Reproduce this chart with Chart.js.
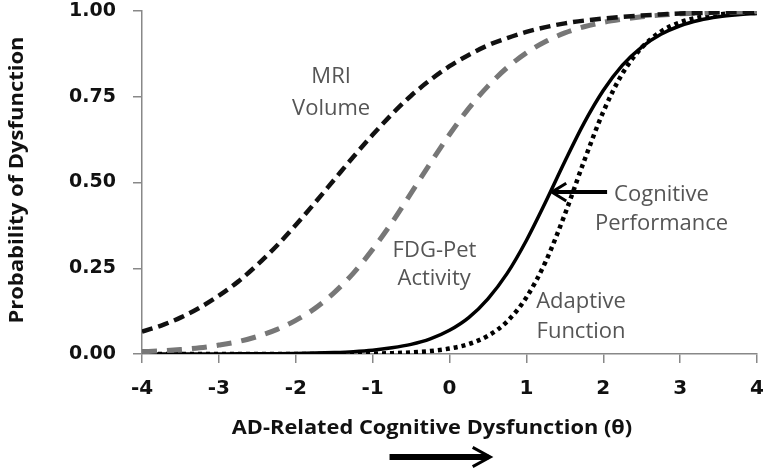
<!DOCTYPE html>
<html>
<head>
<meta charset="utf-8">
<script src="https://cdn.jsdelivr.net/npm/chart.js@4.4.1/dist/chart.umd.min.js"></script>
<style>
  html, body { margin: 0; padding: 0; background: #fff; }
  #wrap { width: 768px; height: 472px; }
</style>
</head>
<body>
<div id="wrap"><canvas id="chart" width="768" height="472"></canvas></div>
<script>
// Ability levels (theta) along the x axis
const theta = [-4, -3.75, -3.5, -3.25, -3, -2.75, -2.5, -2.25, -2, -1.75, -1.5, -1.25, -1, -0.75, -0.5, -0.25,
  0, 0.25, 0.5, 0.75, 1, 1.25, 1.5, 1.75, 2, 2.25, 2.5, 2.75, 3, 3.25, 3.5, 3.75, 4];

// Probability of dysfunction
const mriVolume = [0.065, 0.083, 0.106, 0.135, 0.170, 0.211, 0.260, 0.315, 0.376, 0.441, 0.508, 0.575, 0.639, 0.699, 0.753, 0.799,
  0.839, 0.872, 0.900, 0.921, 0.939, 0.953, 0.964, 0.972, 0.978, 0.983, 0.987, 0.990, 0.993, 0.994, 0.996, 0.997, 0.998];
const fdgPet = [0.007, 0.009, 0.013, 0.018, 0.026, 0.036, 0.051, 0.071, 0.098, 0.133, 0.179, 0.236, 0.305, 0.383, 0.469, 0.556,
  0.640, 0.716, 0.781, 0.835, 0.878, 0.911, 0.936, 0.954, 0.967, 0.976, 0.983, 0.988, 0.992, 0.994, 0.996, 0.997, 0.998];
const cognitive = [0.0000, 0.0001, 0.0001, 0.0002, 0.0003, 0.0004, 0.0006, 0.0010, 0.0017, 0.0027, 0.0043, 0.0068, 0.011, 0.018, 0.028, 0.044,
  0.069, 0.106, 0.161, 0.235, 0.331, 0.443, 0.561, 0.673, 0.768, 0.842, 0.895, 0.932, 0.957, 0.973, 0.983, 0.989, 0.993];
const adaptive = [0.0000, 0.0000, 0.0000, 0.0000, 0.0000, 0.0001, 0.0001, 0.0001, 0.0001, 0.0002, 0.0004, 0.0007, 0.0013, 0.0025, 0.0046, 0.0086,
  0.016, 0.029, 0.053, 0.095, 0.165, 0.269, 0.407, 0.562, 0.706, 0.818, 0.893, 0.940, 0.967, 0.982, 0.990, 0.995, 0.997];

const yTicks = [0, 0.25, 0.5, 0.75, 1];

// Curve labels, anchored in data units (text baseline)
const curveLabels = [
  { text: 'MRI', x: -1.54, y: 0.790 },
  { text: 'Volume', x: -1.54, y: 0.697 },
  { text: 'FDG-Pet', x: -0.195, y: 0.283 },
  { text: 'Activity', x: -0.20, y: 0.201 },
  { text: 'Cognitive', x: 2.758, y: 0.446 },
  { text: 'Performance', x: 2.758, y: 0.3615 },
  { text: 'Adaptive', x: 1.711, y: 0.134 },
  { text: 'Function', x: 1.711, y: 0.047 }
];

function toPoints(ys) {
  return theta.map((t, i) => ({ x: t, y: ys[i] }));
}

function drawArrow(ctx, x1, y1, x2, y2, shaftW, headLen, headSpread) {
  // shaft from (x1,y1) to tip (x2,y2), open chevron head
  const ang = Math.atan2(y2 - y1, x2 - x1);
  ctx.save();
  ctx.strokeStyle = '#000';
  ctx.lineCap = 'butt';
  ctx.lineWidth = shaftW;
  ctx.beginPath();
  ctx.moveTo(x1, y1);
  ctx.lineTo(x2 - Math.cos(ang) * 2, y2 - Math.sin(ang) * 2);
  ctx.stroke();
  ctx.lineWidth = 3;
  ctx.lineJoin = 'miter';
  ctx.beginPath();
  ctx.moveTo(x2 - headLen * Math.cos(ang - headSpread), y2 - headLen * Math.sin(ang - headSpread));
  ctx.lineTo(x2, y2);
  ctx.lineTo(x2 - headLen * Math.cos(ang + headSpread), y2 - headLen * Math.sin(ang + headSpread));
  ctx.stroke();
  ctx.restore();
}

// text that is a little wider than the font draws it (the original is stretched)
function wideText(ctx, text, x, y, sx) {
  ctx.save();
  ctx.translate(x, y);
  ctx.scale(sx, 1);
  ctx.fillText(text, 0, 0);
  ctx.restore();
}

const labelsPlugin = {
  id: 'curveLabels',
  afterDraw(chart) {
    const ctx = chart.ctx;
    const xs = chart.scales.x;
    const ys = chart.scales.y;

    ctx.save();
    ctx.fillStyle = '#555';
    ctx.font = '22px "Open Sans"';
    ctx.textAlign = 'center';
    ctx.textBaseline = 'alphabetic';
    curveLabels.forEach(l => {
      ctx.fillText(l.text, xs.getPixelForValue(l.x), ys.getPixelForValue(l.y));
    });

    // axis titles
    ctx.fillStyle = '#111';
    ctx.font = 'bold 20px "Open Sans"';
    wideText(ctx, 'AD-Related Cognitive Dysfunction (θ)', 432, 434, 1.09);
    ctx.translate(23, 180);
    ctx.rotate(-Math.PI / 2);
    wideText(ctx, 'Probability of Dysfunction', 0, 0, 1.1);
    ctx.restore();

    // arrow pointing at the cognitive performance curve
    const ay = ys.getPixelForValue(0.472);
    drawArrow(ctx, xs.getPixelForValue(2.05), ay, xs.getPixelForValue(1.33), ay, 4, 17, 0.55);

    // direction arrow below the x axis title
    drawArrow(ctx, xs.getPixelForValue(-0.78), 457, xs.getPixelForValue(0.53), 457, 6, 20, 0.5);
  }
};

new Chart(document.getElementById('chart'), {
  type: 'line',
  data: {
    datasets: [
      {
        label: 'MRI Volume',
        data: toPoints(mriVolume),
        borderColor: '#111',
        borderWidth: 4.5,
        borderDash: [11, 6]
      },
      {
        label: 'FDG-Pet Activity',
        data: toPoints(fdgPet),
        borderColor: '#777',
        borderWidth: 5,
        borderDash: [15, 10]
      },
      {
        // white core turns the wide gray dash into a double line
        label: 'FDG-Pet inner',
        data: toPoints(fdgPet),
        borderColor: '#fff',
        borderWidth: 3,
        borderDash: [15, 10]
      },
      {
        label: 'Cognitive Performance',
        data: toPoints(cognitive),
        borderColor: '#000',
        borderWidth: 3.5
      },
      {
        label: 'Adaptive Function',
        data: toPoints(adaptive),
        borderColor: '#000',
        borderWidth: 4.5,
        borderDash: [4, 4]
      }
    ]
  },
  options: {
    responsive: false,
    animation: false,
    layout: { padding: 0 },
    elements: {
      point: { radius: 0 },
      line: { cubicInterpolationMode: 'monotone', fill: false, borderCapStyle: 'butt' }
    },
    plugins: {
      legend: { display: false },
      tooltip: { enabled: false }
    },
    scales: {
      x: {
        type: 'linear',
        min: -4,
        max: 4,
        afterFit(scale) {
          // fixed axis box so the plot area lines up with the original
          scale.height = 118;
          scale.paddingLeft = 0;
          scale.paddingRight = 11;
        },
        border: { color: '#888', width: 1.5 },
        grid: { drawOnChartArea: false, tickLength: 9, color: '#888', lineWidth: 1.5 },
        ticks: {
          stepSize: 1,
          padding: 14,
          color: '#111',
          font: { family: 'DejaVu Sans', weight: 'bold', size: 20 }
        }
      },
      y: {
        min: 0,
        max: 1,
        afterFit(scale) {
          scale.width = 142;
          scale.paddingTop = 11;
          scale.paddingBottom = 0;
        },
        afterBuildTicks(scale) { scale.ticks = yTicks.map(v => ({ value: v })); },
        border: { color: '#888', width: 1.5 },
        grid: { drawOnChartArea: false, tickLength: 9, color: '#888', lineWidth: 1.5 },
        ticks: {
          padding: 17,
          color: '#111',
          font: { family: 'DejaVu Sans', weight: 'bold', size: 19 },
          callback: v => v.toFixed(2)
        }
      }
    }
  },
  plugins: [labelsPlugin]
});
</script>
</body>
</html>
